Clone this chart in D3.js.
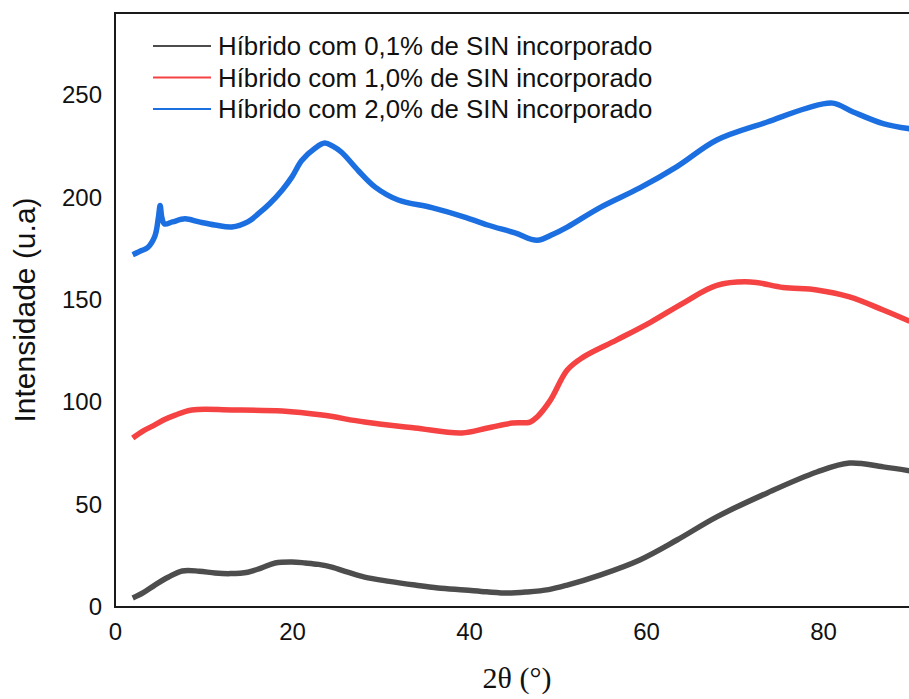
<!DOCTYPE html>
<html>
<head>
<meta charset="utf-8">
<script src="https://cdn.jsdelivr.net/npm/d3@7"></script>
<style>
  html, body { margin: 0; padding: 0; background: #fff; }
</style>
</head>
<body>
<div class="chart"></div>
<script>
// readings: [2theta, intensity]
var serie01 = [[2.0,4.4],[3.2,7],[4.5,10.7],[6,14.5],[7.6,17.6],[9.5,17.5],[11.3,16.6],[13,16.3],[15,17],[16.5,19],[18.1,21.5],[20,22],[21.5,21.5],[23,20.8],[24.5,19.5],[26.3,17],[28.2,14.6],[31,12.5],[33.9,10.7],[36.5,9.3],[39.5,8.3],[42,7.4],[44.4,6.8],[46.5,7.3],[49,8.5],[51.1,10.7],[54.8,15.6],[59.3,23],[63.5,32.7],[68,44],[73.7,55.7],[79.3,65.9],[83,70.3],[86.8,68.4],[89.8,66.5]];
var serie10 = [[2.0,82.5],[3.2,86],[4.5,88.9],[5.6,91.5],[6.8,93.7],[8.7,96.2],[13.2,96.2],[18.9,95.7],[23.4,93.7],[28.2,90.3],[33.9,87.4],[39.2,85],[42.1,87.4],[44.9,89.8],[46.9,90.3],[47.7,92.8],[49.2,101],[51.1,115.7],[52.9,122],[56.7,130.4],[60.5,139],[64.2,148.4],[68,157],[71.8,158.7],[75.5,156],[79.3,154.8],[83,151.4],[86.8,145],[89.8,139.5]];
var serie20 = [[2.0,172],[3.0,174],[3.7,175.5],[4.5,181],[4.9,190],[5.1,196],[5.3,190],[5.6,187],[6.5,188],[7.9,189.5],[9.5,188],[11.3,186.5],[13.2,185.5],[15,188],[16.2,192],[17.5,197],[18.9,203.6],[20,210],[21.1,218],[22.6,224],[23.7,226.5],[24.6,225],[25.6,222],[27.5,213],[29.4,205],[32,198.7],[35.8,195],[39.5,190.4],[42.1,186.5],[45.2,182.6],[47.7,179],[49.5,182],[51.1,185.5],[54.8,195],[59.3,204.6],[63.5,215],[68,228],[73.7,236.8],[78.2,243.6],[81.1,246],[83.4,241.7],[86.8,236],[89.8,233.5]];

var legendLabels = ["Híbrido com 0,1% de SIN incorporado", "Híbrido com 1,0% de SIN incorporado", "Híbrido com 2,0% de SIN incorporado"];
var colors = ["#4d4d4d", "#f54242", "#1c6fe0"];
var xTicks = [0, 20, 40, 60, 80];
var yTicks = [0, 50, 100, 150, 200, 250];

(function() {
    var width = 909, height = 699;
    var mLeft = 115, mTop = 13, mBottom = 607;

    var svg = d3.select(".chart")
                .append("svg")
                .attr("width", width)
                .attr("height", height)
                .style("display", "block");

    var x = d3.scaleLinear().domain([0, 90]).range([mLeft, mLeft + 90 * 8.85]);
    var y = d3.scaleLinear().domain([0, 290]).range([mBottom, mTop]);

    svg.append("defs").append("clipPath")
        .attr("id", "plot")
        .append("rect")
        .attr("x", mLeft)
        .attr("y", mTop)
        .attr("width", width - mLeft)
        .attr("height", mBottom - mTop);

    var line = d3.line()
        .x(function(d) { return x(d[0]) })
        .y(function(d) { return y(d[1]) })
        .curve(d3.curveCatmullRom.alpha(0.5));

    var series = [serie01, serie10, serie20];

    svg.append("g")
        .attr("clip-path", "url(#plot)")
        .selectAll(".curve")
        .data(series)
        .enter().append("path")
        .attr("class", "curve")
        .attr("d", line)
        .attr("fill", "none")
        .attr("stroke", function(d, i) { return colors[i] })
        .attr("stroke-width", 5.5)
        .attr("stroke-linejoin", "round");

    // frame: left, top, bottom
    svg.append("path")
        .attr("d", "M" + width + "," + mTop + "H" + mLeft + "V" + mBottom + "H" + width)
        .attr("fill", "none")
        .attr("stroke", "#1a1a1a")
        .attr("stroke-width", 2);

    var yAxis = d3.axisLeft(y).tickValues(yTicks).tickSize(0).tickPadding(13);
    var xAxis = d3.axisBottom(x).tickValues(xTicks).tickSize(0).tickPadding(16);

    svg.append("g")
        .attr("transform", "translate(" + mLeft + ",0)")
        .call(yAxis)
        .call(function(g) { g.select(".domain").remove() })
        .selectAll("text")
        .attr("font-family", "'Liberation Sans', Arial, sans-serif")
        .attr("font-size", 24)
        .attr("fill", "#111");

    svg.append("g")
        .attr("transform", "translate(0," + mBottom + ")")
        .call(xAxis)
        .call(function(g) { g.select(".domain").remove() })
        .selectAll("text")
        .attr("font-family", "'Liberation Sans', Arial, sans-serif")
        .attr("font-size", 24)
        .attr("fill", "#111");

    svg.append("text")
        .attr("transform", "translate(35," + (mTop + mBottom) / 2 + ") rotate(-90)")
        .attr("text-anchor", "middle")
        .attr("font-family", "'Liberation Sans', Arial, sans-serif")
        .attr("font-size", 30)
        .attr("fill", "#111")
        .text("Intensidade (u.a)");

    svg.append("text")
        .attr("x", 517)
        .attr("y", 688)
        .attr("text-anchor", "middle")
        .attr("font-family", "'Liberation Serif', 'Times New Roman', serif")
        .attr("font-size", 30)
        .attr("fill", "#111")
        .text("2θ (°)");

    var legend = svg.selectAll(".legend")
        .data(legendLabels)
        .enter().append("g")
        .attr("class", "legend")
        .attr("transform", function(d, i) { return "translate(153," + (46 + i * 31.5) + ")" });

    legend.append("line")
        .attr("x1", 0)
        .attr("x2", 58)
        .attr("stroke", function(d, i) { return colors[i] })
        .attr("stroke-width", 2);

    legend.append("text")
        .attr("x", 65)
        .attr("dy", "0.35em")
        .attr("font-family", "'Liberation Sans', Arial, sans-serif")
        .attr("font-size", 25.8)
        .attr("fill", "#111")
        .text(function(d) { return d });
})();
</script>
</body>
</html>
